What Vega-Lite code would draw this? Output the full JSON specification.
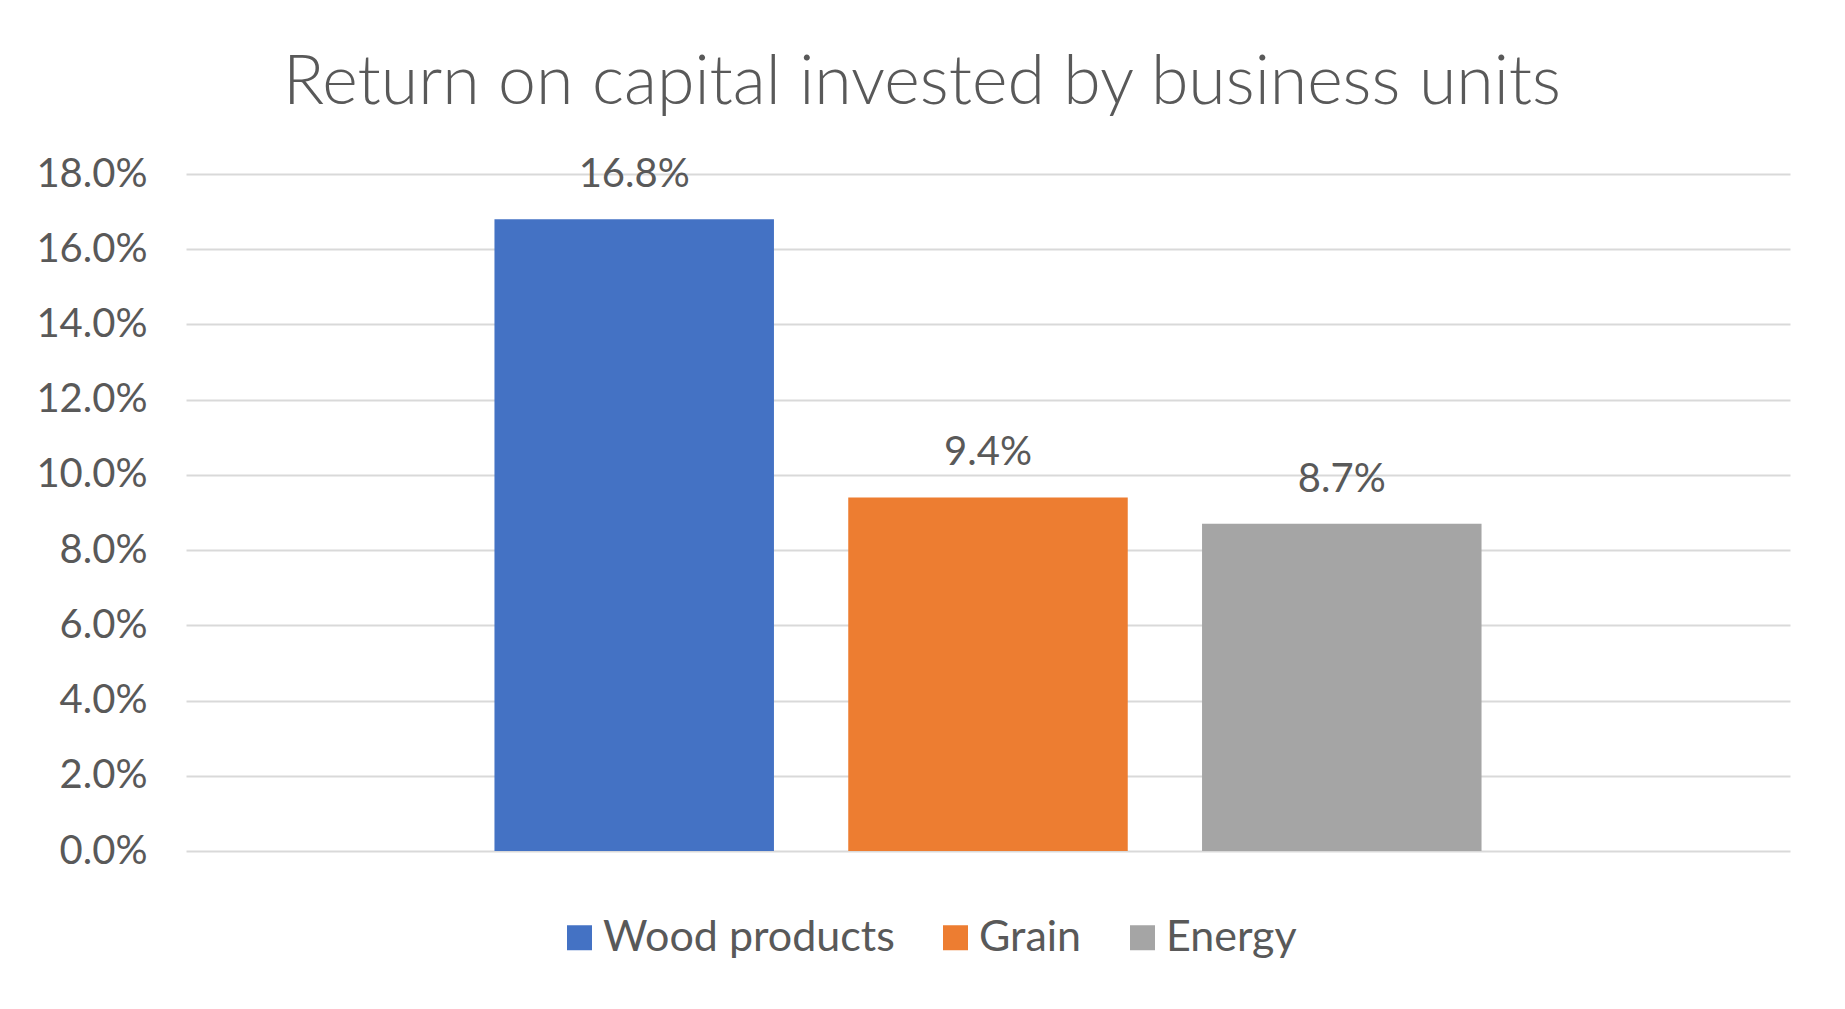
{
  "$schema": "https://vega.github.io/schema/vega-lite/v6.json",
  "width": 1604,
  "height": 677,
  "autosize": "none",
  "padding": {"left": 186, "top": 174, "right": 55, "bottom": 158},
  "background": "white",
  "title": {
    "text": "Return on capital invested by business units",
    "font": "Lato",
    "fontWeight": 300,
    "fontSize": 68,
    "color": "#595959",
    "anchor": "middle",
    "dx": -66,
    "offset": 36
  },
  "data": {
    "values": [
      {"group": "All", "unit": "Wood products", "roc": 0.168},
      {"group": "All", "unit": "Grain", "roc": 0.094},
      {"group": "All", "unit": "Energy", "roc": 0.087}
    ]
  },
  "encoding": {
    "x": {"field": "group", "type": "nominal", "axis": null, "scale": {"paddingInner": 0, "paddingOuter": 0.3125}},
    "xOffset": {"field": "unit", "type": "nominal", "sort": ["Wood products", "Grain", "Energy"], "scale": {"paddingInner": 0.21, "paddingOuter": 0}},
    "y": {
      "field": "roc", "type": "quantitative",
      "scale": {"domain": [0, 0.18], "nice": false},
      "axis": {
        "title": null, "format": ".1%",
        "values": [0, 0.02, 0.04, 0.06, 0.08, 0.1, 0.12, 0.14, 0.16, 0.18],
        "domain": false, "ticks": false,
        "labelFont": "Lato", "labelFontSize": 40, "labelColor": "#595959",
        "labelPadding": 39,
        "gridColor": "#d9d9d9", "gridWidth": 2
      }
    }
  },
  "layer": [
    {
      "mark": {"type": "bar"},
      "encoding": {
        "color": {
          "field": "unit", "type": "nominal",
          "sort": ["Wood products", "Grain", "Energy"],
          "scale": {"domain": ["Wood products", "Grain", "Energy"], "range": ["#4472c4", "#ed7d31", "#a5a5a5"]},
          "legend": {
            "title": null,
            "orient": "none",
            "legendX": 372,
            "legendY": 742,
            "direction": "horizontal",
            "symbolType": "square",
            "symbolSize": 625,
            "symbolStrokeWidth": 0,
            "labelFont": "Lato",
            "labelFontSize": 43,
            "labelColor": "#595959",
            "labelLimit": 0,
            "labelOffset": 2,
            "columnPadding": 39
          }
        }
      }
    },
    {
      "mark": {"type": "text", "baseline": "middle", "dy": -44, "font": "Lato", "fontSize": 40, "color": "#595959"},
      "encoding": {
        "text": {"field": "roc", "type": "quantitative", "format": ".1%"}
      }
    }
  ],
  "config": {
    "view": {"stroke": null}
  }
}
